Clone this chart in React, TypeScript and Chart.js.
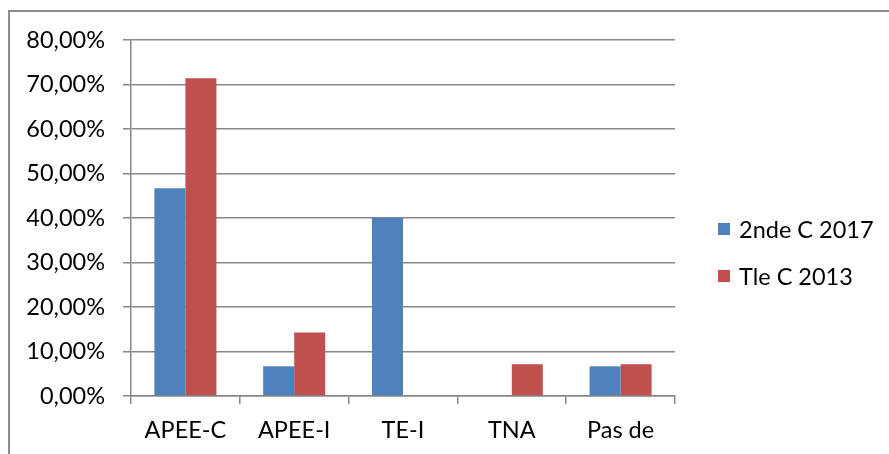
import React, { useEffect, useRef } from "react";
import { Chart, registerables } from "chart.js";

Chart.register(...registerables);

const categories: (string | string[])[] = ["APEE-C", "APEE-I", "TE-I", "TNA", ["Pas de", "réponse"]];
const series2017 = [46.67, 6.67, 40.0, 0, 6.67];
const series2013 = [71.43, 14.29, 0, 7.14, 7.14];
const seriesNames = ["2nde C 2017", "Tle C 2013"];
const seriesColors = ["#4F81BD", "#C0504D"];
const yMin = 0;
const yMax = 80;
const yStep = 10;

const FONT = "Lato, 'Liberation Sans', sans-serif";
const GRID = "#878787";

const legendPlugin = {
  id: "customLegend",
  afterDraw(chart: any) {
    const ctx = chart.ctx;
    ctx.save();
    ctx.font = `23.5px ${FONT}`;
    ctx.textBaseline = "middle";
    ctx.textAlign = "left";
    const rows = [229, 276];
    seriesNames.forEach((name, i) => {
      const cy = rows[i];
      ctx.fillStyle = seriesColors[i];
      ctx.fillRect(718, cy - 6, 12, 12);
      ctx.fillStyle = "#000";
      ctx.fillText(name, 739, cy + 1);
    });
    ctx.restore();
  },
};

export default function App() {
  const ref = useRef<HTMLCanvasElement | null>(null);

  useEffect(() => {
    if (!ref.current) return;
    const chart = new Chart(ref.current, {
      type: "bar",
      data: {
        labels: categories as any,
        datasets: [
          {
            label: seriesNames[0],
            data: series2017,
            backgroundColor: seriesColors[0],
            categoryPercentage: 0.57,
            barPercentage: 1,
          },
          {
            label: seriesNames[1],
            data: series2013,
            backgroundColor: seriesColors[1],
            categoryPercentage: 0.57,
            barPercentage: 1,
          },
        ],
      },
      options: {
        responsive: false,
        animation: false,
        layout: { padding: { top: 40, right: 214, left: 0, bottom: 0 } },
        plugins: {
          legend: { display: false },
          tooltip: { enabled: false },
        },
        scales: {
          x: {
            afterFit(scale: any) {
              scale.height = 58;
            },
            grid: {
              drawOnChartArea: false,
              drawTicks: true,
              tickLength: 8,
              color: GRID,
              lineWidth: 1.5,
              offset: true,
            },
            border: { display: true, color: GRID, width: 1.5 },
            ticks: {
              color: "#000",
              padding: 9,
              maxRotation: 0,
              autoSkip: false,
              font: { family: FONT, size: 23.5, lineHeight: 1.45 },
            },
          },
          y: {
            min: yMin,
            max: yMax,
            afterFit(scale: any) {
              scale.width = 131;
            },
            grid: {
              color: GRID,
              lineWidth: 1.5,
              tickLength: 8,
              drawTicks: true,
            },
            border: { display: true, color: GRID, width: 1.5 },
            ticks: {
              stepSize: yStep,
              color: "#000",
              padding: 18,
              font: { family: FONT, size: 23.5 },
              callback: (v: any) => Number(v).toFixed(2).replace(".", ",") + "%",
            },
          },
        },
      },
      plugins: [legendPlugin],
    });
    return () => chart.destroy();
  }, []);

  return (
    <div
      style={{
        position: "fixed",
        left: 0,
        top: 0,
        width: 889,
        height: 454,
        overflow: "hidden",
        background: "#fff",
      }}
    >
      <div
        style={{
          position: "absolute",
          left: 8,
          top: 10,
          width: 2000,
          height: 2000,
          borderLeft: "2px solid #8c8c8c",
          borderTop: "2px solid #8c8c8c",
        }}
      />
      <canvas
        ref={ref}
        width={889}
        height={454}
        style={{ position: "absolute", left: 0, top: 0, width: 889, height: 454 }}
      />
    </div>
  );
}
